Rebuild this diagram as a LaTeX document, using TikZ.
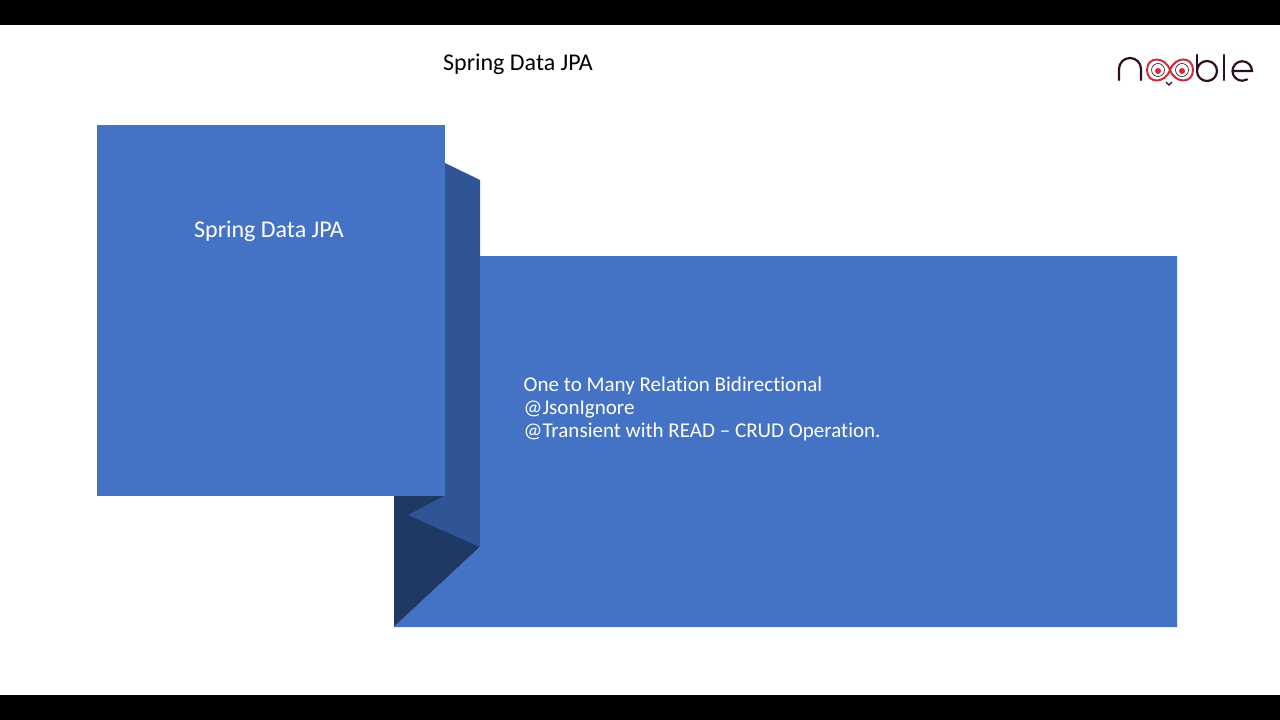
\documentclass[tikz,border=0pt]{standalone}
\usepackage{fontspec}
\setmainfont[Ligatures=NoCommon]{Carlito}
\definecolor{mainblue}{HTML}{4472C4}
\definecolor{foldmid}{HTML}{2F5597}
\definecolor{folddark}{HTML}{203864}
\definecolor{logodark}{HTML}{2A0F25}
\definecolor{logored}{HTML}{D02A3C}
\tikzset{
  x=1pt,y=-1pt,
  caption/.style={font=\fontsize{24}{28}\selectfont,inner sep=0pt,anchor=center},
  bodytext/.style={font=\fontsize{21.05}{23}\selectfont,inner sep=0pt,anchor=north west,align=left,text=white},
  logoline/.style={draw=logodark,line width=2.2pt,line cap=round},
  logoeye/.style={draw=logored,line width=2pt}
}
\begin{document}
\begin{tikzpicture}
\useasboundingbox (0,0) rectangle (1280,720);
\fill[white] (0,0) rectangle (1280,720);
\fill[black] (0,0) rectangle (1280,25);
\fill[black] (0,695) rectangle (1280,720);
% ribbon
\fill[folddark] (394,495.5) -- (445,495.5) -- (480,547) -- (394,627) -- cycle;
\fill[foldmid] (445,163) -- (480,180) -- (480,547) -- (408,515) -- (445,495.5) -- cycle;
\fill[mainblue] (394,627) -- (480,547) -- (480,256) -- (1177,256) -- (1177,627) -- cycle;
\fill[mainblue] (97,125) rectangle (445,495.5);
% texts
\node[caption] (title) at (518,64) {Spring Data JPA};
\node[caption,text=white] (boxtitle) at (269,231.5) {Spring Data JPA};
\node[bodytext] (body) at (523.5,376.3) {One to Many Relation Bidirectional\\@JsonIgnore\\@Transient with READ – CRUD Operation.};
% logo
\draw[logoline] (1119,80) -- (1119,69) arc[start angle=180,end angle=0,x radius=11,y radius=-11] -- (1141,80);
\draw[logoeye] (1170,70) .. controls (1165,56) and (1147,56) .. (1147,70) .. controls (1147,84) and (1165,84) .. (1170,70) .. controls (1175,56) and (1193,56) .. (1193,70) .. controls (1193,84) and (1175,84) .. (1170,70) -- cycle;
\draw[draw=logodark,line width=.6pt] (1158,70) circle[radius=6.5];
\draw[draw=logodark,line width=.6pt] (1182,70) circle[radius=6.5];
\fill[logored] (1158,71) circle[radius=3];
\fill[logored] (1182,71) circle[radius=3];
\draw[logodark,line width=1.1pt] (1166,82) -- (1169,85) -- (1172,82);
\draw[logoline] (1197,55) -- (1197,71);
\draw[logoline] (1207,71) circle[radius=10];
\draw[logoline] (1224,55) -- (1224,80);
\draw[logoline] (1232.5,71) -- (1252,71) arc[start angle=0,end angle=-300,radius=9.75];
\end{tikzpicture}
\end{document}
